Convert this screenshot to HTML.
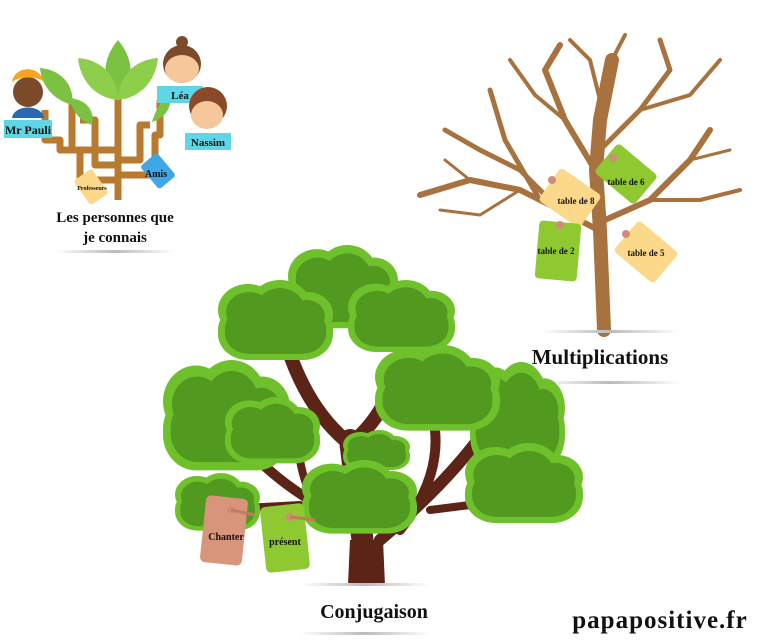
<!DOCTYPE html>
<html><head><meta charset="utf-8"><style>
body{margin:0;background:#fff;}
svg{display:block}
text{font-family:"Liberation Serif",serif;font-weight:bold;fill:#111}
</style></head><body>
<svg width="768" height="644" viewBox="0 0 768 644" xmlns="http://www.w3.org/2000/svg" xmlns:xlink="http://www.w3.org/1999/xlink">
<defs>
<linearGradient id="sh" x1="0" x2="1"><stop offset="0" stop-color="#fff"/><stop offset=".5" stop-color="#bbb"/><stop offset="1" stop-color="#fff"/></linearGradient>
<g id="cl">
<g fill="#6fc12c"><rect x="0" y="24" width="100" height="56" rx="26"/><circle cx="26" cy="30" r="26"/><circle cx="54" cy="27" r="27"/><circle cx="78" cy="34" r="22"/></g>
<g fill="#529a1f"><rect x="6" y="28" width="88" height="46" rx="21"/><circle cx="27" cy="32" r="20"/><circle cx="54" cy="29" r="21"/><circle cx="77" cy="36" r="16"/></g>
</g>
</defs>

<!-- ===== Small tree (top-left) ===== -->
<g fill="none" stroke="#b87a2e" stroke-width="7" stroke-linejoin="round">
<path d="M118 200 V95"/>
<path d="M118 180 H80 V150 H72 V100"/>
<path d="M118 165 H95 V120 H80"/>
<path d="M118 150 H60 V140 H45 V110"/>
<path d="M118 175 H155 V135 H160 V100"/>
<path d="M118 160 H140 V125 H150"/>
</g>
<g fill="#7cc242">
<path d="M118 40 C135 60 135 85 118 100 C101 85 101 60 118 40Z"/>
<path d="M78 58 C105 60 118 80 118 100 C95 98 80 80 78 58Z" fill="#8dcf4a"/>
<path d="M158 58 C131 60 118 80 118 100 C141 98 156 80 158 58Z" fill="#8dcf4a"/>
<path d="M40 68 C65 70 75 90 72 105 C55 100 42 88 40 68Z"/>
<path d="M70 98 C88 100 95 112 92 125 C78 120 72 110 70 98Z"/>
<path d="M170 95 C160 100 155 112 152 122 C165 118 172 108 170 95Z"/>
</g>
<circle cx="28" cy="92" r="15" fill="#7a4a2a"/>
<path d="M12 82 C15 65 40 65 44 82 C38 76 20 76 12 82Z" fill="#f7a521"/>
<path d="M12 118 C14 104 42 104 44 118Z" fill="#2b68b3"/>
<rect x="4" y="120" width="48" height="18" fill="#5fd6e6"/>
<text x="28" y="134" font-size="12" text-anchor="middle">Mr Pauli</text>
<circle cx="182" cy="42" r="6" fill="#7a4a2a"/>
<circle cx="182" cy="64" r="19" fill="#7a4a2a"/>
<ellipse cx="182" cy="69" rx="17" ry="14" fill="#f5c79a"/>
<rect x="157" y="86" width="46" height="17" fill="#5fd6e6"/>
<text x="180" y="99" font-size="11" text-anchor="middle">Léa</text>
<circle cx="208" cy="106" r="19" fill="#8a4a2a"/>
<ellipse cx="207" cy="115" rx="16" ry="14" fill="#f5c79a"/>
<rect x="185" y="133" width="46" height="17" fill="#5fd6e6"/>
<text x="208" y="146" font-size="11" text-anchor="middle">Nassim</text>
<rect x="147" y="156" width="22" height="30" rx="3" fill="#3ea7e8" transform="rotate(-40 158 171)"/>
<text x="156" y="177" font-size="10" text-anchor="middle">Amis</text>
<rect x="80" y="172" width="22" height="30" rx="3" fill="#fcd98a" transform="rotate(-35 91 187)"/>
<text x="92" y="190" font-size="6" text-anchor="middle">Professeurs</text>
<text x="115" y="222" font-size="15" text-anchor="middle">Les personnes que</text>
<text x="115" y="242" font-size="15" text-anchor="middle">je connais</text>
<rect x="55" y="250" width="120" height="3" fill="url(#sh)"/>

<!-- ===== Bare tree ===== -->
<g fill="none" stroke="#a8723f" stroke-linecap="round" stroke-linejoin="round">
<path d="M604 330 L600 230 L596 170 L600 120 L612 60" stroke-width="14"/>
<path d="M598 230 L570 215 L520 190 L470 180 L420 195" stroke-width="6"/>
<path d="M560 210 L520 170 L480 150 L445 130" stroke-width="5"/>
<path d="M540 200 L505 140 L490 90" stroke-width="5"/>
<path d="M595 170 L565 120 L545 70 L560 45" stroke-width="6"/>
<path d="M565 120 L535 95 L510 60" stroke-width="4"/>
<path d="M600 150 L640 110 L670 70 L660 40" stroke-width="5"/>
<path d="M640 110 L690 95 L720 60" stroke-width="4"/>
<path d="M605 220 L650 200 L690 160 L710 130" stroke-width="6"/>
<path d="M650 200 L700 200 L740 190" stroke-width="4"/>
<path d="M690 160 L730 150" stroke-width="3"/>
<path d="M600 100 L590 60 L570 40" stroke-width="4"/>
<path d="M520 190 L480 215 L440 210" stroke-width="3"/>
<path d="M470 180 L445 160" stroke-width="3"/>
<path d="M612 60 L625 35" stroke-width="4"/>
</g>
<rect x="545" y="178" width="50" height="40" rx="4" fill="#fcd98a" transform="rotate(35 570 198)"/>
<text x="576" y="204" font-size="9" text-anchor="middle">table de 8</text>
<rect x="600" y="155" width="52" height="38" rx="4" fill="#8fc932" transform="rotate(40 626 174)"/>
<text x="626" y="185" font-size="9" text-anchor="middle">table de 6</text>
<rect x="537" y="222" width="42" height="58" rx="4" fill="#8fc932" transform="rotate(5 558 251)"/>
<text x="556" y="254" font-size="9" text-anchor="middle">table de 2</text>
<rect x="620" y="232" width="52" height="40" rx="4" fill="#fcd98a" transform="rotate(40 646 252)"/>
<text x="646" y="256" font-size="9" text-anchor="middle">table de 5</text>
<g fill="#d48a7a"><circle cx="560" cy="225" r="4"/><circle cx="626" cy="234" r="4"/><circle cx="613" cy="158" r="4"/><circle cx="552" cy="180" r="4"/></g>
<rect x="540" y="330" width="140" height="3" fill="url(#sh)"/>
<text x="600" y="364" font-size="21" text-anchor="middle">Multiplications</text>
<rect x="540" y="381" width="140" height="3" fill="url(#sh)"/>

<!-- ===== Big tree ===== -->
<g fill="none" stroke="#5c2317" stroke-linecap="round" stroke-linejoin="round">
<path d="M290 355 Q310 410 345 440" stroke-width="14"/>
<path d="M400 355 Q390 410 355 440" stroke-width="14"/>
<path d="M350 440 L365 560" stroke-width="22"/>
<path d="M258 460 Q300 500 350 520" stroke-width="10"/>
<path d="M300 460 Q305 490 320 510" stroke-width="8"/>
<path d="M245 508 L300 505" stroke-width="8"/>
<path d="M435 430 Q440 480 400 530" stroke-width="10"/>
<path d="M485 430 Q450 480 380 540" stroke-width="12"/>
<path d="M430 510 L470 505" stroke-width="8"/>
</g>
<path d="M350 540 L383 540 L385 585 L348 585Z" fill="#5c2317"/>

<use xlink:href="#cl" transform="translate(470 362) scale(0.95 1.35)"/>
<use xlink:href="#cl" transform="translate(288 245) scale(1.1 1.04)"/>
<use xlink:href="#cl" transform="translate(218 280) scale(1.15 1)"/>
<use xlink:href="#cl" transform="translate(348 280) scale(1.07 0.9)"/>
<use xlink:href="#cl" transform="translate(163 360) scale(1.27 1.38)"/>
<use xlink:href="#cl" transform="translate(225 397) scale(0.95 0.83)"/>
<use xlink:href="#cl" transform="translate(375 345) scale(1.25 1.07)"/>
<use xlink:href="#cl" transform="translate(175 473) scale(0.85 0.72)"/>
<use xlink:href="#cl" transform="translate(343 430) scale(0.67 0.5)"/>
<use xlink:href="#cl" transform="translate(302 460) scale(1.15 0.92)"/>
<use xlink:href="#cl" transform="translate(465 443) scale(1.18 1)"/>

<rect x="203" y="497" width="42" height="67" rx="5" fill="#d9957b" transform="rotate(6 224 530)"/>
<text x="226" y="540" font-size="10" text-anchor="middle">Chanter</text>
<rect x="263" y="505" width="44" height="66" rx="5" fill="#8fc932" transform="rotate(-6 285 538)"/>
<text x="285" y="545" font-size="10" text-anchor="middle">présent</text>
<g fill="#d48a7a"><circle cx="231" cy="510" r="4"/><circle cx="290" cy="517" r="4"/></g>
<path d="M231 510 L255 515 M290 517 L315 520" stroke="#c47a5a" stroke-width="3"/>
<rect x="300" y="583" width="130" height="3" fill="url(#sh)"/>
<text x="374" y="618" font-size="20" text-anchor="middle">Conjugaison</text>
<rect x="300" y="632" width="130" height="3" fill="url(#sh)"/>
<text x="660" y="628" font-size="25" text-anchor="middle" font-weight="normal" style="letter-spacing:1px">papapositive.fr</text>
</svg>
</body></html>
